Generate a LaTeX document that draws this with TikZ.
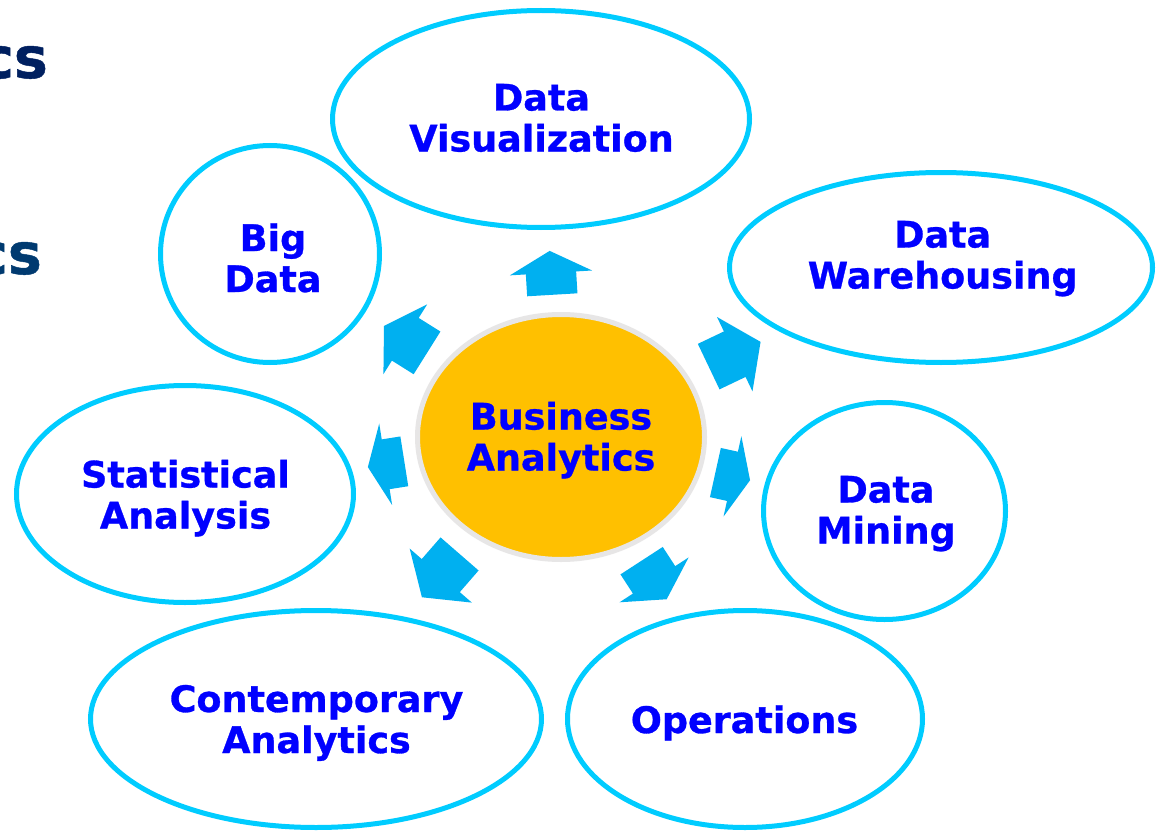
\documentclass[tikz,border=0pt]{standalone}
\usepackage{fontspec}
\setmainfont{DejaVu Sans}[BoldFeatures={FakeBold=0.8}]
\usetikzlibrary{shapes.geometric,shapes.arrows}
\definecolor{ringc}{HTML}{00CCFF}
\definecolor{arrc}{HTML}{00B0F0}
\definecolor{txtc}{HTML}{0000FF}
\definecolor{goldc}{HTML}{FFC000}
\definecolor{greyc}{HTML}{E7E6E6}
\definecolor{navyA}{HTML}{002060}
\definecolor{navyB}{HTML}{003A70}
\newcommand\topstrut{\rule{0pt}{28pt}}
\newcommand\botstrut{\rule[-9pt]{0pt}{9pt}}
\begin{document}
\begin{tikzpicture}[x=1pt,y=-1pt,
  bubble/.style={ellipse, draw=ringc, line width=5pt, inner sep=0pt},
  core/.style={ellipse, draw=greyc, fill=goldc, line width=5pt, inner sep=0pt},
  lbl/.style={text=txtc, font=\fontsize{36.5}{41}\selectfont\bfseries, align=center, inner sep=0pt},
  blockarrow/.style={single arrow, fill=arrc, draw=none, inner xsep=0pt, inner ysep=25pt,
    single arrow head extend=16pt, minimum width=0pt, anchor=tail},
  frag/.style={font=\fontsize{57}{60}\selectfont\bfseries, inner sep=0pt, anchor=base east}]
\useasboundingbox (0,0) rectangle (1159,832);
\clip (0,0) rectangle (1159,832);
\fill[white] (0,0) rectangle (1159,832);

% title fragments
\node[frag, text=navyA] (t1) at (48,78) {cs};
\node[frag, text=navyB] (t2) at (42,274) {cs};

% ellipses
\node[bubble, minimum width=417pt, minimum height=217pt] (dv) at (541,119) {};
\node[bubble, minimum width=219pt, minimum height=217pt] (bd) at (270,254) {};
\node[bubble, minimum width=423pt, minimum height=190pt] (dw) at (941,267.5) {};
\node[bubble, minimum width=337pt, minimum height=217pt] (sa) at (185,494) {};
\node[bubble, minimum width=242pt, minimum height=217pt] (dm) at (884.5,511) {};
\node[bubble, minimum width=451pt, minimum height=217pt] (ca) at (316,719) {};
\node[bubble, minimum width=355pt, minimum height=217pt] (op) at (745,719) {};
\node[core, minimum width=287pt, minimum height=245pt] (ba) at (561,437) {};

% block arrows
\node[blockarrow, rotate=93.4, minimum height=44pt, single arrow tip angle=123.6] (a1) at (552.3,295) {};
\node[blockarrow, rotate=147.9, minimum height=50.8pt, single arrow tip angle=117.2] (a2) at (427.2,353) {};
\node[blockarrow, rotate=25.5, minimum height=57.5pt, single arrow tip angle=110.4] (a3) at (708.5,366.7) {};
\node[blockarrow, rotate=-12.5, minimum height=35.5pt, single arrow tip angle=132.7] (a4) at (715.2,472.5) {};
\node[blockarrow, rotate=-57, minimum height=46pt, single arrow tip angle=121.4] (a5) at (641.5,560.5) {};
\node[blockarrow, rotate=-131, minimum height=57.4pt, single arrow tip angle=110.2] (a6) at (459.7,553.8) {};
\node[blockarrow, rotate=189, minimum height=36.9pt, single arrow tip angle=132.7] (a7) at (404.5,461.3) {};

% labels
\node[lbl] (dvt) at (541.5,121.5) {\topstrut Data\\Visualization\botstrut};
\node[lbl] (bdt) at (273,262) {\topstrut Big\\Data\botstrut};
\node[lbl] (dwt) at (942.7,258.5) {\topstrut Data\\Warehousing\botstrut};
\node[lbl] (sat) at (185.5,498.5) {\topstrut Statistical\\Analysis\botstrut};
\node[lbl] (dmt) at (886,513.5) {\topstrut Data\\Mining\botstrut};
\node[lbl] (cat) at (316.5,723) {\topstrut Contemporary\\Analytics\botstrut};
\node[lbl] (opt) at (744.5,723.5) {\topstrut Operations\botstrut};
\node[lbl] (bat) at (561,440.5) {\topstrut Business\\Analytics\botstrut};
\end{tikzpicture}
\end{document}
